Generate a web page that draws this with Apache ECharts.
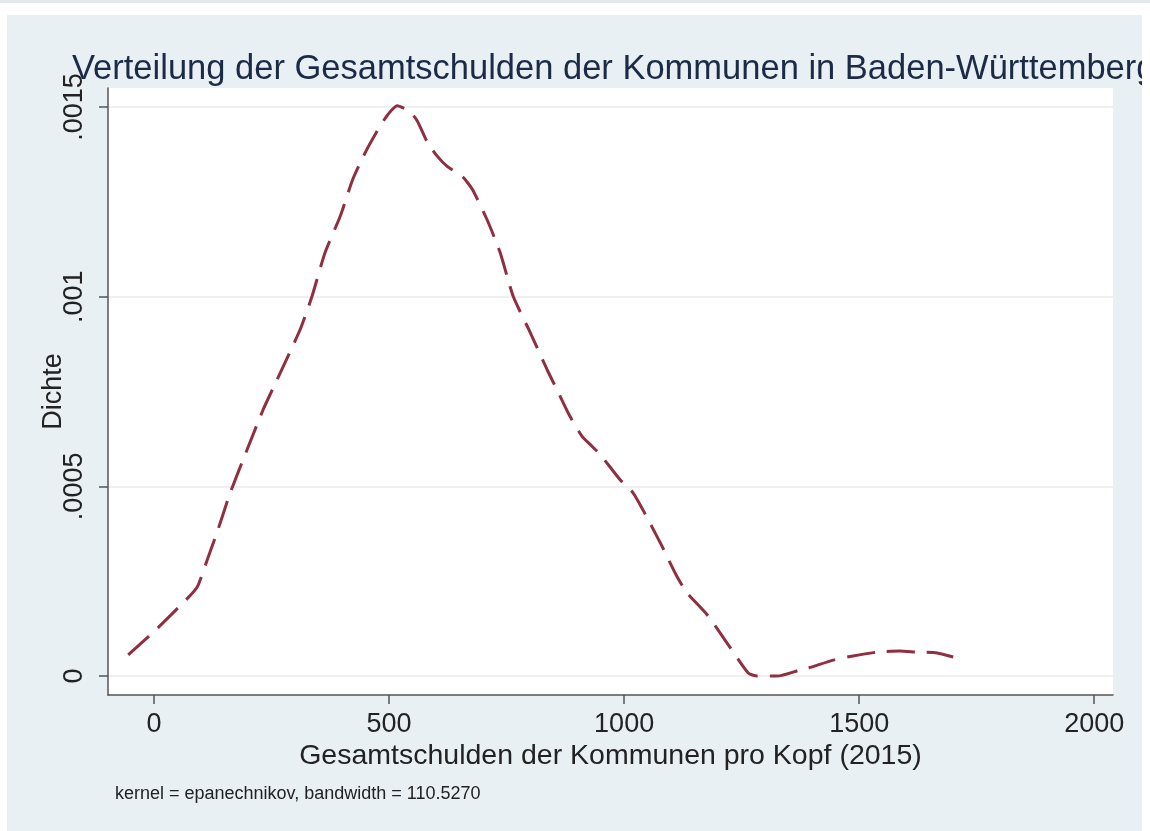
<!DOCTYPE html>
<html>
<head>
<meta charset="utf-8">
<script src="https://cdn.jsdelivr.net/npm/echarts@6/dist/echarts.min.js"></script>
<style>
  html, body { margin: 0; padding: 0; background: #ffffff; }
  #strip { position: absolute; left: 0; top: 0; width: 1150px; height: 3px; background: #e4e9ec; }
  #main { position: absolute; left: 7px; top: 15px; width: 1135px; height: 816px; background: #e9f0f3; }
</style>
</head>
<body>
<div id="strip"></div>
<div id="main"></div>
<script>
// Kerndichteschätzung
const xValues = [-55, 8, 72, 92, 113, 136, 162, 198, 232, 262, 311, 336, 364, 396, 423, 453, 481, 498, 517,
  545, 560, 581, 602, 623, 657, 677, 708, 736, 764, 800, 836, 857, 885, 911, 928, 949, 991, 1019, 1040,
  1077, 1113, 1134, 1177, 1219, 1264, 1283, 1326, 1374, 1392, 1445, 1487, 1538, 1587, 1623, 1666, 1700];
const density = [0.0000555, 0.000127, 0.000206, 0.000235, 0.000306, 0.000386, 0.000483, 0.000597, 0.000702,
  0.000782, 0.000914, 0.001001, 0.001117, 0.001212, 0.001310, 0.001389, 0.001450, 0.001481, 0.001503,
  0.001487, 0.001463, 0.001408, 0.001371, 0.001344, 0.001315, 0.001283, 0.001204, 0.001117, 0.001001,
  0.000906, 0.000808, 0.000755, 0.000684, 0.000631, 0.000610, 0.000584, 0.000518, 0.000483, 0.000438,
  0.000351, 0.000261, 0.000219, 0.000161, 0.000087, 0.000008, 0.0, 0.0, 0.000016, 0.000021, 0.000042,
  0.000053, 0.000063, 0.000066, 0.000063, 0.000061, 0.000050];

const xTicks = [0, 500, 1000, 1500, 2000];
const yTicks = [0, 0.0005, 0.001, 0.0015];
const yTickLabels = ['0', '.0005', '.001', '.0015'];

const titleText = 'Verteilung der Gesamtschulden der Kommunen in Baden-Württemberg';
const xName = 'Gesamtschulden der Kommunen pro Kopf (2015)';
const yName = 'Dichte';
const noteText = 'kernel = epanechnikov, bandwidth = 110.5270';

let points = [];
for (let i = 0; i < xValues.length; i++) {
  points.push([xValues[i], density[i]]);
}

const font = 'Liberation Sans, Arial, Helvetica, sans-serif';
const chart = echarts.init(document.getElementById('main'), null, { renderer: 'canvas' });

chart.setOption({
  backgroundColor: '#e9f0f3',
  animation: false,
  title: {
    text: titleText,
    left: 65,
    top: 37,
    padding: 0,
    textStyle: { fontFamily: font, fontSize: 34.5, fontWeight: 'normal', color: '#1b2a47' }
  },
  graphic: [{
    type: 'text',
    left: 108,
    top: 770,
    style: { text: noteText, font: '18px ' + font, fill: '#222222' }
  }],
  grid: {
    left: 101,
    right: 29,
    top: 73,
    bottom: 136,
    show: true,
    backgroundColor: '#ffffff',
    borderWidth: 0
  },
  xAxis: {
    type: 'value',
    min: -98,
    max: 2040,
    name: xName,
    nameLocation: 'middle',
    nameGap: 47,
    nameMoveOverlap: false,
    nameTextStyle: { fontFamily: font, fontSize: 28.5, color: '#222222' },
    axisLine: { show: true, onZero: false, lineStyle: { color: '#555555', width: 1.5 } },
    axisTick: { show: true, length: 9, customValues: xTicks, lineStyle: { color: '#555555', width: 1.5 } },
    axisLabel: {
      customValues: xTicks,
      fontFamily: font,
      fontSize: 27,
      color: '#222222',
      margin: 16,
      formatter: function (v) { return String(v); }
    },
    splitLine: { show: false }
  },
  yAxis: {
    type: 'value',
    min: -0.00005,
    max: 0.00155,
    name: yName,
    nameLocation: 'middle',
    nameGap: 41,
    nameMoveOverlap: false,
    nameTextStyle: { fontFamily: font, fontSize: 27, color: '#222222' },
    axisLine: { show: true, onZero: false, lineStyle: { color: '#555555', width: 1.5 } },
    axisTick: { show: true, length: 9, customValues: yTicks, lineStyle: { color: '#555555', width: 1.5 } },
    axisLabel: {
      customValues: yTicks,
      rotate: 90,
      margin: 20,
      fontFamily: font,
      fontSize: 27,
      color: '#222222',
      formatter: function (v) {
        let best = 0;
        for (let i = 1; i < yTicks.length; i++) {
          if (Math.abs(yTicks[i] - v) < Math.abs(yTicks[best] - v)) best = i;
        }
        return yTickLabels[best];
      }
    },
    splitLine: { show: true, lineStyle: { color: '#e8eaec', width: 1.5 } }
  },
  series: [{
    type: 'line',
    data: points,
    showSymbol: false,
    smooth: 0.2,
    lineStyle: { color: '#8f2f40', width: 3, type: [28, 12] }
  }]
});
</script>
</body>
</html>
